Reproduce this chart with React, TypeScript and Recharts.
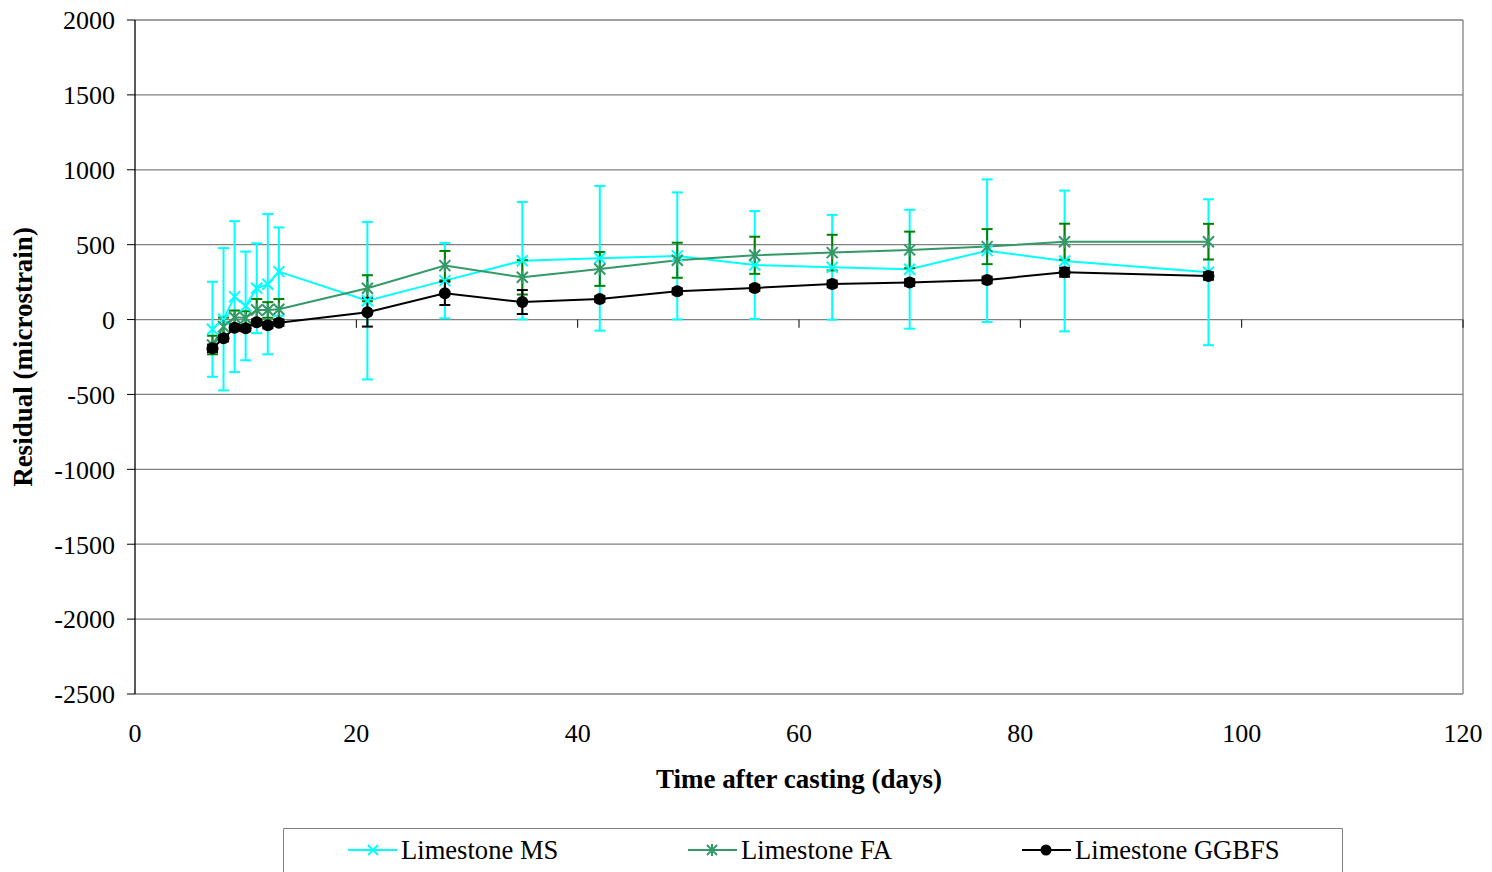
import React from 'react';
import {
    LineChart,
    Line,
    XAxis,
    YAxis,
    CartesianGrid,
    ErrorBar,
    ReferenceLine,
    Legend
} from 'recharts';

// days after casting
const days = [7, 8, 9, 10, 11, 12, 13, 21, 28, 35, 42, 49, 56, 63, 70, 77, 84, 97];

const msValues = [-65, 2, 153, 91, 209, 236, 320, 126, 260, 393, 409, 425, 364, 349, 336, 460, 391, 316];
const msErrors = [317, 475, 504, 363, 300, 468, 295, 526, 252, 392, 483, 424, 360, 350, 397, 476, 470, 487];

const faValues = [-170, -47, 15, 10, 64, 64, 69, 209, 360, 282, 338, 396, 429, 447, 465, 487, 520, 520];
const faErrors = [62, 60, 45, 45, 73, 52, 68, 87, 98, 115, 113, 117, 124, 119, 122, 117, 120, 119];

const ggValues = [-192, -125, -55, -58, -18, -38, -22, 49, 175, 117, 137, 189, 211, 238, 247, 264, 316, 291];
const ggErrors = [25, 20, 20, 20, 20, 20, 20, 96, 78, 80, 20, 20, 20, 22, 22, 22, 30, 25];

const seriesNames = ['Limestone MS', 'Limestone FA', 'Limestone GGBFS'];

const xTicks = [0, 20, 40, 60, 80, 100, 120];
const yTicks = [-2500, -2000, -1500, -1000, -500, 0, 500, 1000, 1500, 2000];

const FONT = '"Liberation Serif", "Times New Roman", serif';
const MS_COLOR = '#00FFFF';
const FA_COLOR = '#339966';
const FA_ERR = '#008000';
const GG_COLOR = '#000000';

const data = days.map((d, i) => ({
    day: d,
    ms: msValues[i],
    msErr: msErrors[i],
    fa: faValues[i],
    faErr: faErrors[i],
    gg: ggValues[i],
    ggErr: ggErrors[i]
}));

function CrossMark({ cx, cy, color, s = 5.5 }: any) {
    return (
        <g>
            <line x1={cx - s} y1={cy - s} x2={cx + s} y2={cy + s} stroke={color} strokeWidth={2} />
            <line x1={cx - s} y1={cy + s} x2={cx + s} y2={cy - s} stroke={color} strokeWidth={2} />
        </g>
    );
}

function StarMark({ cx, cy, color, s = 5.5 }: any) {
    return (
        <g>
            <line x1={cx - s} y1={cy - s} x2={cx + s} y2={cy + s} stroke={color} strokeWidth={2} />
            <line x1={cx - s} y1={cy + s} x2={cx + s} y2={cy - s} stroke={color} strokeWidth={2} />
            <line x1={cx} y1={cy - s - 1} x2={cx} y2={cy + s + 1} stroke={color} strokeWidth={2} />
        </g>
    );
}

function XTick({ x, y, payload }: any) {
    return (
        <text x={x} y={y} dy="0.71em" textAnchor="middle" fontFamily={FONT} fontSize={26} fill="#000">
            {payload.value}
        </text>
    );
}

function YTick({ x, y, payload }: any) {
    return (
        <text x={x} y={y} dy="0.36em" textAnchor="end" fontFamily={FONT} fontSize={26} fill="#000">
            {payload.value}
        </text>
    );
}

function renderLegend() {
    const items = [
        { x: 65, color: MS_COLOR, kind: 'cross' },
        { x: 405, color: FA_COLOR, kind: 'star' },
        { x: 739, color: GG_COLOR, kind: 'dot' }
    ];
    return (
        <svg width={1060} height={44} style={{ display: 'block' }}>
            <polyline points="0.5,44 0.5,0.5 1059.5,0.5 1059.5,44" fill="none" stroke="#808080" strokeWidth={1} />
            {items.map((it, i) => (
                <g key={i}>
                    <line x1={it.x} y1={22} x2={it.x + 49} y2={22} stroke={it.color} strokeWidth={2} />
                    {it.kind === 'cross' && <CrossMark cx={it.x + 25} cy={22} color={it.color} s={5} />}
                    {it.kind === 'star' && <StarMark cx={it.x + 24} cy={22} color={it.color} s={5} />}
                    {it.kind === 'dot' && <circle cx={it.x + 24} cy={22} r={5.5} fill={it.color} />}
                    <text x={it.x + 53} y={31} style={{ fontFamily: FONT, fontSize: 26.6 }} fill="#000">
                        {seriesNames[i]}
                    </text>
                </g>
            ))}
        </svg>
    );
}

export default function App() {
    return (
        <div style={{ position: 'absolute', left: 0, top: 0, width: 1492, height: 872, overflow: 'hidden', background: '#fff', fontFamily: FONT }}>
            <LineChart
                width={1492}
                height={872}
                data={data}
                margin={{ top: 20, right: 29, left: 0, bottom: 88 }}
                style={{ fontFamily: FONT }}
            >
                <CartesianGrid horizontal={true} vertical={false} stroke="#808080" strokeWidth={1.3} />
                <XAxis
                    dataKey="day"
                    type="number"
                    domain={[0, 120]}
                    ticks={xTicks}
                    axisLine={false}
                    tickLine={false}
                    tickSize={0}
                    tickMargin={30}
                    height={90}
                    tick={<XTick />}
                    label={{
                        value: 'Time after casting (days)',
                        position: 'insideBottom',
                        offset: -4,
                        style: { fill: '#000', fontSize: 27, fontWeight: 'bold', fontFamily: FONT }
                    }}
                />
                <YAxis
                    type="number"
                    domain={[-2500, 2000]}
                    ticks={yTicks}
                    width={135}
                    axisLine={{ stroke: '#000', strokeWidth: 1.3 }}
                    tickLine={{ stroke: '#000' }}
                    tickSize={8}
                    tickMargin={12}
                    tick={<YTick />}
                    label={{
                        value: 'Residual (microstrain)',
                        angle: -90,
                        position: 'insideLeft',
                        offset: 22,
                        style: { fill: '#000', fontSize: 27, fontWeight: 'bold', fontFamily: FONT, textAnchor: 'middle' }
                    }}
                />
                <ReferenceLine x={120} stroke="#808080" strokeWidth={1.3} />
                {xTicks.slice(1).map(t => (
                    <ReferenceLine
                        key={t}
                        segment={[{ x: t, y: 0 }, { x: t, y: -55 }]}
                        stroke="#000"
                        strokeWidth={1}
                    />
                ))}
                <Line
                    dataKey="ms"
                    name={seriesNames[0]}
                    stroke={MS_COLOR}
                    strokeWidth={2}
                    isAnimationActive={false}
                    dot={(p: any) => <CrossMark key={`ms-${p.index}`} cx={p.cx} cy={p.cy} color={MS_COLOR} />}
                    activeDot={false}
                >
                    <ErrorBar dataKey="msErr" direction="y" width={5.5} stroke={MS_COLOR} strokeWidth={2} isAnimationActive={false} />
                </Line>
                <Line
                    dataKey="fa"
                    name={seriesNames[1]}
                    stroke={FA_COLOR}
                    strokeWidth={2}
                    isAnimationActive={false}
                    dot={(p: any) => <StarMark key={`fa-${p.index}`} cx={p.cx} cy={p.cy} color={FA_COLOR} />}
                    activeDot={false}
                >
                    <ErrorBar dataKey="faErr" direction="y" width={5.5} stroke={FA_ERR} strokeWidth={2} isAnimationActive={false} />
                </Line>
                <Line
                    dataKey="gg"
                    name={seriesNames[2]}
                    stroke={GG_COLOR}
                    strokeWidth={2}
                    isAnimationActive={false}
                    dot={(p: any) => <circle key={`gg-${p.index}`} cx={p.cx} cy={p.cy} r={6} fill={GG_COLOR} />}
                    activeDot={false}
                >
                    <ErrorBar dataKey="ggErr" direction="y" width={5.5} stroke={GG_COLOR} strokeWidth={2} isAnimationActive={false} />
                </Line>
                <Legend
                    verticalAlign="middle"
                    align="center"
                    layout="horizontal"
                    width={1060}
                    height={44}
                    wrapperStyle={{ left: 283, top: 828, width: 1060, height: 44 }}
                    content={renderLegend}
                />
            </LineChart>
        </div>
    );
}
